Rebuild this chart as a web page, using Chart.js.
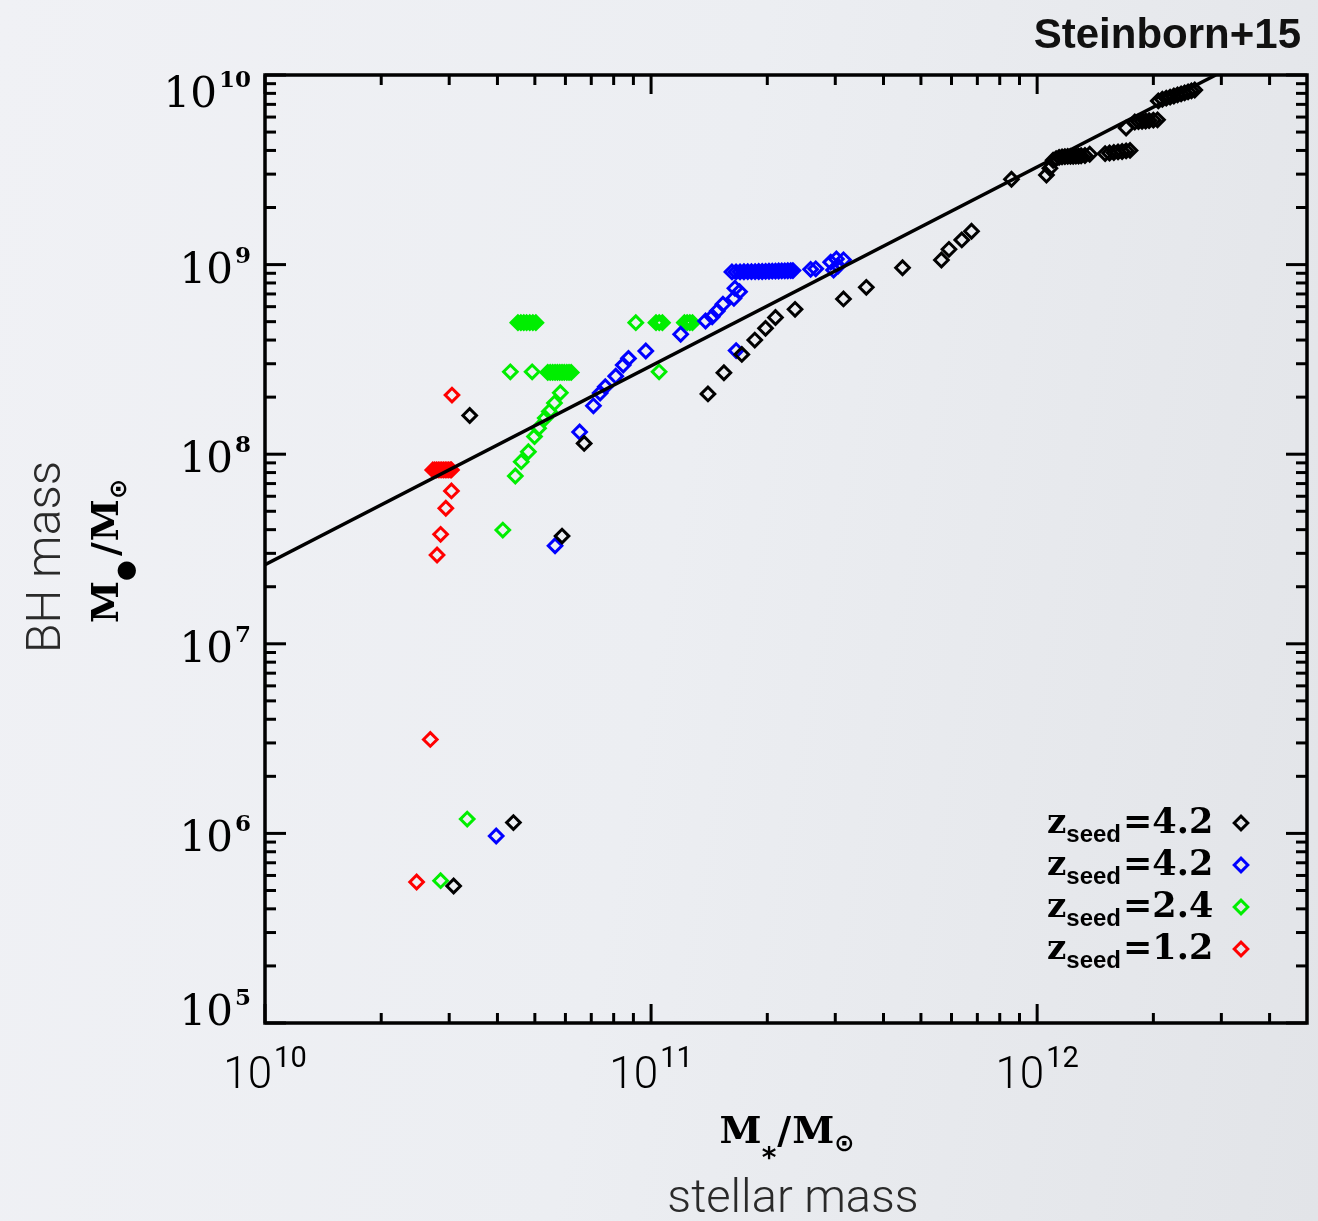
<!DOCTYPE html>
<html>
<head>
<meta charset="utf-8">
<script src="https://cdn.jsdelivr.net/npm/chart.js@4.4.1/dist/chart.umd.min.js"></script>
<style>
  html, body { margin: 0; padding: 0; width: 1318px; height: 1221px; overflow: hidden; }
  body { background: linear-gradient(100deg, #f0f1f5 0%, #eceef2 50%, #e2e4e8 100%); }
  canvas { display: block; }
</style>
</head>
<body>
<canvas id="c" width="1318" height="1221"></canvas>
<script>
// ---------------- data ----------------
const blackX = [3.08e10, 4.40e10, 3.39e10, 6.71e10, 5.88e10, 1.404e11, 1.544e11, 1.718e11, 1.856e11, 1.979e11, 2.10e11, 2.36e11,
  3.15e11, 3.61e11, 4.48e11, 5.65e11, 5.91e11, 6.38e11, 6.76e11, 8.58e11, 1.057e12, 1.079e12,
  1.10e12, 1.12e12, 1.14e12, 1.16e12, 1.18e12, 1.20e12, 1.22e12, 1.24e12, 1.26e12, 1.28e12, 1.30e12, 1.33e12, 1.368e12,
  1.50e12, 1.54e12, 1.58e12, 1.62e12, 1.66e12, 1.70e12, 1.74e12,
  1.70e12,
  1.79e12, 1.83e12, 1.87e12, 1.91e12, 1.95e12, 2.00e12, 2.05e12,
  2.06e12, 2.11e12, 2.16e12, 2.21e12, 2.26e12, 2.31e12, 2.36e12, 2.41e12, 2.46e12, 2.51e12, 2.56e12];
const blackY = [5.28e5, 1.14e6, 1.60e8, 1.14e8, 3.70e7, 2.08e8, 2.69e8, 3.36e8, 4.00e8, 4.61e8, 5.26e8, 5.81e8,
  6.59e8, 7.59e8, 9.63e8, 1.058e9, 1.204e9, 1.35e9, 1.50e9, 2.82e9, 2.97e9, 3.22e9,
  3.55e9, 3.62e9, 3.68e9, 3.70e9, 3.71e9, 3.72e9, 3.72e9, 3.73e9, 3.74e9, 3.74e9, 3.75e9, 3.76e9, 3.82e9,
  3.85e9, 3.88e9, 3.90e9, 3.93e9, 3.95e9, 3.98e9, 4.00e9,
  5.25e9,
  5.65e9, 5.68e9, 5.70e9, 5.72e9, 5.75e9, 5.78e9, 5.80e9,
  7.30e9, 7.45e9, 7.55e9, 7.65e9, 7.75e9, 7.85e9, 7.95e9, 8.05e9, 8.15e9, 8.25e9, 8.33e9];

const blueX = [3.97e10, 5.64e10, 6.53e10, 7.09e10, 7.38e10, 7.61e10, 8.10e10, 8.47e10, 8.74e10, 9.69e10, 1.193e11,
  1.384e11, 1.44e11, 1.484e11, 1.535e11, 1.639e11, 1.649e11, 1.695e11, 1.661e11,
  1.62e11, 1.66e11, 1.70e11, 1.74e11, 1.78e11, 1.82e11, 1.86e11, 1.90e11, 1.94e11, 1.98e11, 2.02e11, 2.06e11,
  2.10e11, 2.14e11, 2.18e11, 2.22e11, 2.26e11, 2.30e11, 2.33e11,
  2.59e11, 2.67e11, 2.92e11, 3.02e11, 3.15e11, 2.97e11, 3.05e11];
const blueY = [9.69e5, 3.29e7, 1.31e8, 1.80e8, 2.10e8, 2.27e8, 2.58e8, 2.95e8, 3.20e8, 3.50e8, 4.29e8,
  5.04e8, 5.31e8, 5.69e8, 6.18e8, 6.64e8, 7.50e8, 7.20e8, 3.52e8,
  9.15e8, 9.15e8, 9.16e8, 9.17e8, 9.18e8, 9.18e8, 9.19e8, 9.20e8, 9.20e8, 9.21e8, 9.22e8, 9.23e8,
  9.24e8, 9.25e8, 9.26e8, 9.27e8, 9.28e8, 9.29e8, 9.30e8,
  9.44e8, 9.50e8, 1.03e9, 1.07e9, 1.06e9, 9.36e8, 9.83e8];

const greenX = [4.13e10, 4.45e10, 4.61e10, 4.81e10, 4.99e10, 5.11e10, 5.32e10, 5.45e10, 5.62e10, 5.82e10, 4.32e10, 4.92e10,
  5.40e10, 5.48e10, 5.56e10, 5.64e10, 5.72e10, 5.80e10, 5.88e10, 5.96e10, 6.05e10, 6.13e10, 6.21e10,
  4.52e10, 4.60e10, 4.68e10, 4.76e10, 4.85e10, 4.94e10, 5.03e10,
  9.13e10, 1.03e11, 1.05e11, 1.07e11, 1.22e11, 1.24e11, 1.26e11, 1.28e11, 1.049e11, 3.34e10, 2.85e10];
const greenY = [3.98e7, 7.67e7, 9.13e7, 1.03e8, 1.24e8, 1.37e8, 1.55e8, 1.68e8, 1.86e8, 2.11e8, 2.72e8, 2.72e8,
  2.70e8, 2.70e8, 2.70e8, 2.70e8, 2.70e8, 2.70e8, 2.70e8, 2.70e8, 2.70e8, 2.70e8, 2.70e8,
  4.94e8, 4.94e8, 4.94e8, 4.94e8, 4.94e8, 4.94e8, 4.94e8,
  4.94e8, 4.94e8, 4.94e8, 4.94e8, 4.94e8, 4.94e8, 4.94e8, 4.94e8, 2.72e8, 1.19e6, 5.63e5];

const redX = [3.05e10, 2.72e10, 2.75e10, 2.78e10, 2.81e10, 2.84e10, 2.87e10, 2.90e10, 2.93e10, 2.96e10, 2.99e10, 3.02e10, 3.04e10,
  3.04e10, 2.94e10, 2.85e10, 2.79e10, 2.68e10, 2.47e10];
const redY = [2.05e8, 8.26e7, 8.26e7, 8.26e7, 8.26e7, 8.26e7, 8.26e7, 8.26e7, 8.26e7, 8.26e7, 8.26e7, 8.26e7, 8.26e7,
  6.40e7, 5.19e7, 3.78e7, 2.94e7, 3.13e6, 5.54e5];

// fit relation (straight line in log-log)
const fitX = [1e10, 2.902e12];
const fitY = [2.61e7, 1e10];

// axes
const xRange = [1e10, 5e12];
const yRange = [1e5, 1e10];
const xMajorTicks = [1e10, 1e11, 1e12];
const xTickExponents = ['10', '11', '12'];
const yMajorTicks = [1e5, 1e6, 1e7, 1e8, 1e9, 1e10];
const yTickExponents = ['5', '6', '7', '8', '9', '10'];

// legend
const seriesLabels = ['4.2', '4.2', '2.4', '1.2'];

// ---------------- styles ----------------
const COLORS = ['#000000', '#0000ff', '#00ee00', '#ff0000'];

function minorTicks(lo, hi) {
  const out = [];
  for (let d = lo; d < hi; d *= 10) {
    for (let m = 2; m <= 9; m++) { const v = m * d; if (v < hi) out.push(v); }
  }
  return out;
}
const xMinorTicks = minorTicks(xRange[0], xRange[1]);
const yMinorTicks = minorTicks(yRange[0], yRange[1]);

function pts(xs, ys) { return xs.map((x, i) => ({ x: x, y: ys[i] })); }
function scatterSet(xs, ys, color) {
  return {
    type: 'scatter', data: pts(xs, ys),
    pointStyle: 'rectRot', pointRadius: 6.8, pointHoverRadius: 6.8,
    borderColor: color, backgroundColor: 'rgba(0,0,0,0)', pointBorderWidth: 3, borderWidth: 3,
    showLine: false
  };
}

function drawRich(ctx, parts, x, y, align) {
  let w = 0;
  parts.forEach(p => { ctx.font = p.font; p.w = ctx.measureText(p.t).width; w += p.w + (p.gap || 0); });
  let cx = align === 'right' ? x - w : (align === 'center' ? x - w / 2 : x);
  parts.forEach(p => {
    ctx.font = p.font; ctx.fillStyle = p.color || '#000';
    ctx.fillText(p.t, cx, y + (p.dy || 0));
    cx += p.w + (p.gap || 0);
  });
}

const SERIF = '"DejaVu Serif", "Liberation Serif", serif';
const SANS = 'Roboto, "Liberation Sans", "DejaVu Sans", sans-serif';

const framePlugin = {
  id: 'frame',
  afterDraw(chart) {
    const { ctx, chartArea: a } = chart;
    const x = chart.scales.x, y = chart.scales.y;
    ctx.save();
    ctx.textAlign = 'left'; ctx.textBaseline = 'alphabetic';
    // tick marks (inward, all four sides)
    ctx.strokeStyle = '#000'; ctx.lineWidth = 3; ctx.lineCap = 'butt';
    const seg = (x0, y0, x1, y1) => { ctx.beginPath(); ctx.moveTo(x0, y0); ctx.lineTo(x1, y1); ctx.stroke(); };
    xMajorTicks.forEach(v => { const p = x.getPixelForValue(v); seg(p, a.bottom, p, a.bottom - 19); seg(p, a.top, p, a.top + 19); });
    xMinorTicks.forEach(v => { const p = x.getPixelForValue(v); seg(p, a.bottom, p, a.bottom - 10); seg(p, a.top, p, a.top + 10); });
    yMajorTicks.forEach(v => { const p = y.getPixelForValue(v); seg(a.left, p, a.left + 21, p); seg(a.right, p, a.right - 21, p); });
    yMinorTicks.forEach(v => { const p = y.getPixelForValue(v); seg(a.left, p, a.left + 11, p); seg(a.right, p, a.right - 11, p); });
    // frame
    ctx.lineWidth = 3.5; ctx.lineJoin = 'miter';
    ctx.strokeRect(a.left, a.top, a.right - a.left, a.bottom - a.top);

    // y tick labels
    yMajorTicks.forEach((v, i) => {
      const p = y.getPixelForValue(v);
      const shift = v === yRange[1] ? 32 : (v === yRange[0] ? 2 : 18);
      drawRich(ctx, [
        { t: '10', font: '42px ' + SERIF, gap: 2 },
        { t: yTickExponents[i], font: 'bold 23px ' + SERIF, dy: -20 }
      ], 251, p + shift, 'right');
    });
    // x tick labels
    xMajorTicks.forEach((v, i) => {
      const p = x.getPixelForValue(v);
      drawRich(ctx, [
        { t: '10', font: '300 44px ' + SANS, gap: 2, color: '#000' },
        { t: xTickExponents[i], font: '400 29px ' + SANS, dy: -21, color: '#000' }
      ], p, 1088, 'center');
    });

    // title top right
    drawRich(ctx, [{ t: 'Steinborn+15', font: 'bold 42px "Liberation Sans", Arial, sans-serif', color: '#111' }], 1301, 48, 'right');

    // x axis title
    drawRich(ctx, [
      { t: 'M', font: 'bold 38px ' + SERIF },
      { t: '*', font: 'bold 28px "DejaVu Sans", sans-serif', dy: 24, gap: 1 },
      { t: '/', font: 'bold 38px ' + SERIF, gap: 1 },
      { t: 'M', font: 'bold 38px ' + SERIF },
      { t: '\u2299', font: 'bold 24px "DejaVu Sans", sans-serif', dy: 8 }
    ], 787, 1143, 'center');
    drawRich(ctx, [{ t: 'stellar mass', font: '300 47px ' + SANS, color: '#2a2a2a' }], 793, 1212, 'center');

    // y axis title (rotated)
    ctx.save();
    ctx.translate(60, 557); ctx.rotate(-Math.PI / 2);
    drawRich(ctx, [{ t: 'BH mass', font: '300 48px ' + SANS, color: '#2a2a2a' }], 0, 0, 'center');
    ctx.restore();
    ctx.save();
    ctx.translate(118, 551); ctx.rotate(-Math.PI / 2);
    drawRich(ctx, [
      { t: 'M', font: 'bold 38px ' + SERIF },
      { t: '\u25CF', font: '24px "DejaVu Sans", sans-serif', dy: 15, gap: 4 },
      { t: '/', font: 'bold 38px ' + SERIF, gap: 1 },
      { t: 'M', font: 'bold 38px ' + SERIF },
      { t: '\u2299', font: 'bold 24px "DejaVu Sans", sans-serif', dy: 8 }
    ], 0, 0, 'center');
    ctx.restore();

    // legend (text then marker on the right)
    seriesLabels.forEach((lab, i) => {
      const by = 833 + i * 42;
      drawRich(ctx, [
        { t: 'z', font: 'bold 34px ' + SERIF },
        { t: 'seed', font: 'bold 24px "Liberation Sans", Arial, sans-serif', dy: 9, gap: 2 },
        { t: '=' + lab, font: 'bold 35px ' + SERIF }
      ], 1047, by, 'left');
      const mx = 1241, my = by - 10, r = 6.8;
      ctx.strokeStyle = COLORS[i]; ctx.lineWidth = 3;
      ctx.beginPath();
      ctx.moveTo(mx - r, my); ctx.lineTo(mx, my - r); ctx.lineTo(mx + r, my); ctx.lineTo(mx, my + r); ctx.closePath();
      ctx.stroke();
    });
    ctx.restore();
  }
};

new Chart(document.getElementById('c').getContext('2d'), {
  type: 'scatter',
  data: {
    datasets: [
      { type: 'line', data: pts(fitX, fitY), borderColor: '#000', borderWidth: 3.5, pointRadius: 0, fill: false, tension: 0 },
      scatterSet(blackX, blackY, COLORS[0]),
      scatterSet(blueX, blueY, COLORS[1]),
      scatterSet(greenX, greenY, COLORS[2]),
      scatterSet(redX, redY, COLORS[3])
    ]
  },
  options: {
    responsive: false, animation: false, devicePixelRatio: 1,
    layout: { padding: { left: 0, top: 75, right: 11, bottom: 0 } },
    plugins: { legend: { display: false }, tooltip: { enabled: false } },
    events: [],
    scales: {
      x: {
        type: 'logarithmic', position: 'bottom', min: xRange[0], max: xRange[1],
        ticks: { display: false }, grid: { display: false }, border: { display: false },
        afterFit(s) { s.height = 198; }
      },
      y: {
        type: 'logarithmic', position: 'left', min: yRange[0], max: yRange[1],
        ticks: { display: false }, grid: { display: false }, border: { display: false },
        afterFit(s) { s.width = 265; }
      }
    }
  },
  plugins: [framePlugin]
});
</script>
</body>
</html>
